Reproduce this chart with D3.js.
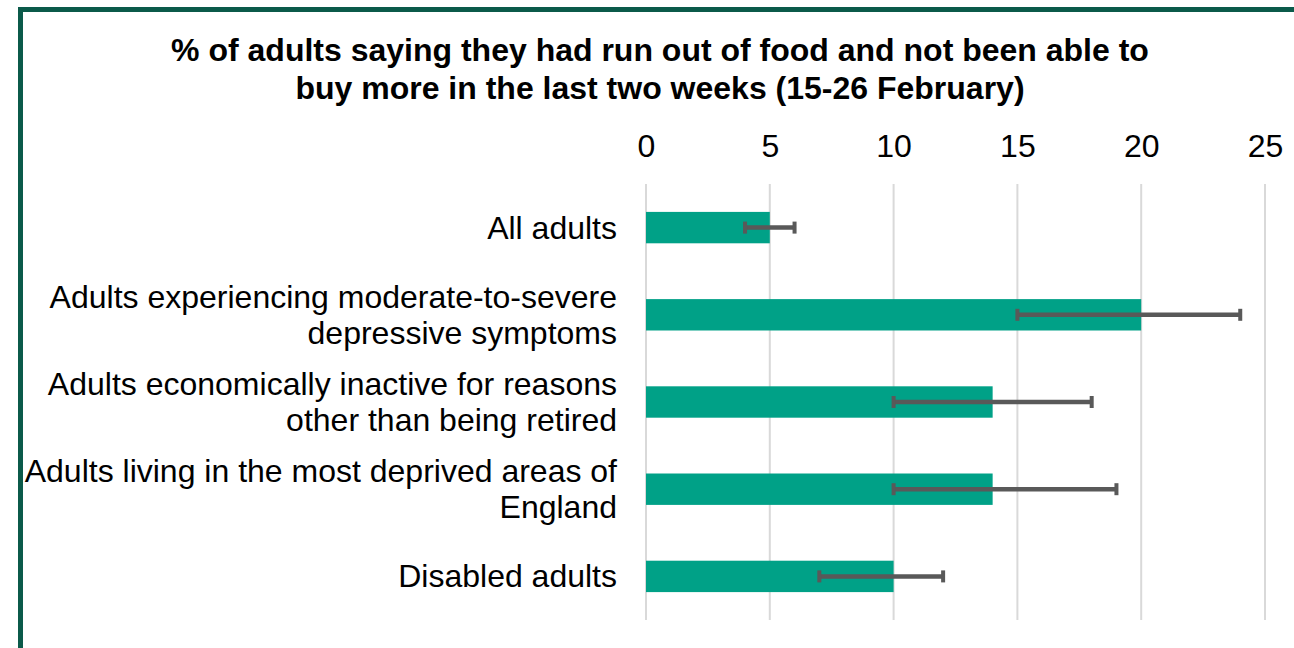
<!DOCTYPE html>
<html>
<head>
<meta charset="utf-8">
<script src="https://cdn.jsdelivr.net/npm/d3@7"></script>
<style>
  html, body { margin: 0; padding: 0; background: #fff; }
  svg { display: block; font-family: "Liberation Sans", Arial, sans-serif; }
</style>
</head>
<body>
<svg id="chart" width="1294" height="648"></svg>
<script>
const titleLines = [
  "% of adults saying they had run out of food and not been able to",
  "buy more in the last two weeks (15-26 February)"
];
const categories = [
  "All adults",
  "Adults experiencing moderate-to-severe depressive symptoms",
  "Adults economically inactive for reasons other than being retired",
  "Adults living in the most deprived areas of England",
  "Disabled adults"
];
const categoryLines = [
  ["All adults"],
  ["Adults experiencing moderate-to-severe", "depressive symptoms"],
  ["Adults economically inactive for reasons", "other than being retired"],
  ["Adults living in the most deprived areas of", "England"],
  ["Disabled adults"]
];
const values = [5, 20, 14, 14, 10];
const lowerCI = [4, 15, 10, 10, 7];
const upperCI = [6, 24, 18, 19, 12];
const tickValues = [0, 5, 10, 15, 20, 25];

const svg = d3.select("#chart");

// frame border (top and left visible)
svg.append("rect")
  .attr("x", 20.5).attr("y", 9.5)
  .attr("width", 1400).attr("height", 800)
  .attr("fill", "none")
  .attr("stroke", "#0b5a4a")
  .attr("stroke-width", 5);

const x = d3.scaleLinear().domain([0, 25]).range([646, 1265]);
const y = d3.scaleBand().domain(categories).range([184, 620])
  .paddingInner(0.64).paddingOuter(0.32);

// title
svg.append("g").selectAll("text").data(titleLines).join("text")
  .attr("x", 660)
  .attr("y", (d, i) => 61 + i * 38)
  .attr("text-anchor", "middle")
  .attr("font-size", 32)
  .attr("font-weight", "bold")
  .attr("fill", "#000")
  .text(d => d);

// gridlines
svg.append("g").selectAll("line").data(tickValues).join("line")
  .attr("x1", d => x(d)).attr("x2", d => x(d))
  .attr("y1", 184).attr("y2", 620)
  .attr("stroke", "#d9d9d9")
  .attr("stroke-width", 2);

// top axis
const axis = svg.append("g")
  .attr("transform", "translate(0,157)")
  .call(d3.axisTop(x).tickValues(tickValues).tickSize(0).tickPadding(0).tickFormat(d3.format("d")));
axis.select(".domain").remove();
axis.selectAll("text")
  .attr("font-size", 32)
  .attr("font-family", "Liberation Sans, Arial, sans-serif")
  .attr("fill", "#000")
  .attr("dy", "0em");

// bars
svg.append("g").selectAll("rect").data(categories).join("rect")
  .attr("x", x(0))
  .attr("y", d => y(d))
  .attr("width", (d, i) => x(values[i]) - x(0))
  .attr("height", y.bandwidth())
  .attr("fill", "#00a187");

// error bars
const eb = svg.append("g").selectAll("g").data(categories).join("g")
  .attr("transform", d => `translate(0,${y(d) + y.bandwidth() / 2})`);
eb.append("line")
  .attr("x1", (d, i) => x(lowerCI[i])).attr("x2", (d, i) => x(upperCI[i]))
  .attr("y1", 0).attr("y2", 0)
  .attr("stroke", "#595959").attr("stroke-width", 4.5);
eb.append("rect")
  .attr("x", (d, i) => x(lowerCI[i]) - 2).attr("y", -6)
  .attr("width", 4).attr("height", 12).attr("fill", "#595959");
eb.append("rect")
  .attr("x", (d, i) => x(upperCI[i]) - 2).attr("y", -6)
  .attr("width", 4).attr("height", 12).attr("fill", "#595959");

// category labels
const lab = svg.append("g").selectAll("text").data(categories).join("text")
  .attr("x", 617)
  .attr("text-anchor", "end")
  .attr("font-size", 32)
  .attr("fill", "#000");
lab.each(function(d, i) {
  const lines = categoryLines[i];
  const cy = y(d) + y.bandwidth() / 2;
  const lh = 36;
  const start = cy - (lines.length - 1) * lh / 2 + 11;
  d3.select(this).selectAll("tspan").data(lines).join("tspan")
    .attr("x", 617)
    .attr("y", (l, j) => start + j * lh)
    .text(l => l);
});
</script>
</body>
</html>
